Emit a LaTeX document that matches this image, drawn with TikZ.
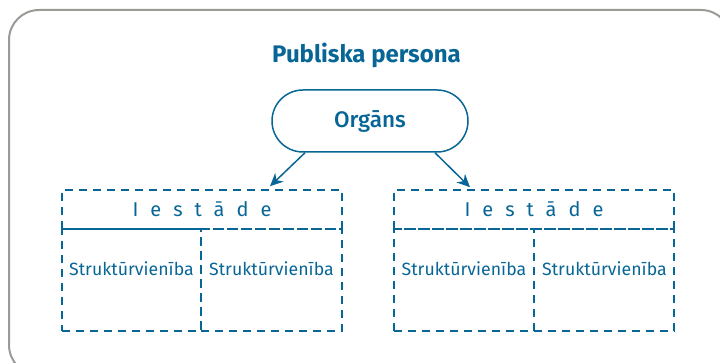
\documentclass[tikz,border=0pt]{standalone}
\usepackage{fontspec}
\setmainfont{Fira Sans}
\newfontfamily\firamed{Fira Sans Medium}
\usetikzlibrary{arrows.meta}
\definecolor{blu}{RGB}{8,102,150}
\definecolor{frame}{RGB}{155,155,150}
\tikzset{
  dbox/.style={draw=blu, line width=1.5pt, dash pattern=on 8pt off 6pt, inner sep=0pt},
  celltext/.style={text=blu, font=\fontsize{17.7}{21}\selectfont, inner sep=0pt},
  iesttext/.style={text=blu, font=\fontsize{20}{24}\selectfont\addfontfeature{LetterSpace=60}},
  arr/.style={draw=blu, line width=1.5pt, -{Stealth[length=13pt,width=12pt]}},
}
\begin{document}
\begin{tikzpicture}[x=1pt,y=-1pt]
\useasboundingbox (0,0) rectangle (720,363);
\draw[frame, line width=2pt, rounded corners=30pt] (9,10) rectangle (731,375);
\node (title) at (366.5,55) [text=blu, font=\fontsize{24}{28}\bfseries\selectfont] {Publiska persona};
\node (organ) at (370,121) [draw=blu, line width=1.5pt, rounded corners=31pt, minimum width=196pt, minimum height=62pt, text=blu, font=\firamed\fontsize{22.5}{27}\selectfont, inner sep=0pt] {Orgāns};
% left
\node (iestL) at (202,209.5) [dbox, minimum width=280pt, minimum height=39pt, iesttext] {Iestāde};
\node (cLa) at (131.5,280) [dbox, minimum width=139pt, minimum height=102pt] {};
\node (cLb) at (271.5,280) [dbox, minimum width=141pt, minimum height=102pt] {};
\node[celltext] (tLa) at (131.5,269) {Struktūrvienība};
\node[celltext] (tLb) at (271.5,269) {Struktūrvienība};
% right
\node (iestR) at (534,209.5) [dbox, minimum width=280pt, minimum height=39pt, iesttext] {Iestāde};
\node (cRa) at (464,280) [dbox, minimum width=140pt, minimum height=102pt] {};
\node (cRb) at (604,280) [dbox, minimum width=140pt, minimum height=102pt] {};
\node[celltext] (tRa) at (464,269) {Struktūrvienība};
\node[celltext] (tRb) at (604.5,269) {Struktūrvienība};
% arrows
\draw[arr] ([xshift=-65pt]organ.south) -- ([xshift=68pt,yshift=3pt]iestL.north);
\draw[arr] ([xshift=65pt]organ.south) -- ([xshift=-64pt,yshift=2pt]iestR.north);
\end{tikzpicture}
\end{document}
